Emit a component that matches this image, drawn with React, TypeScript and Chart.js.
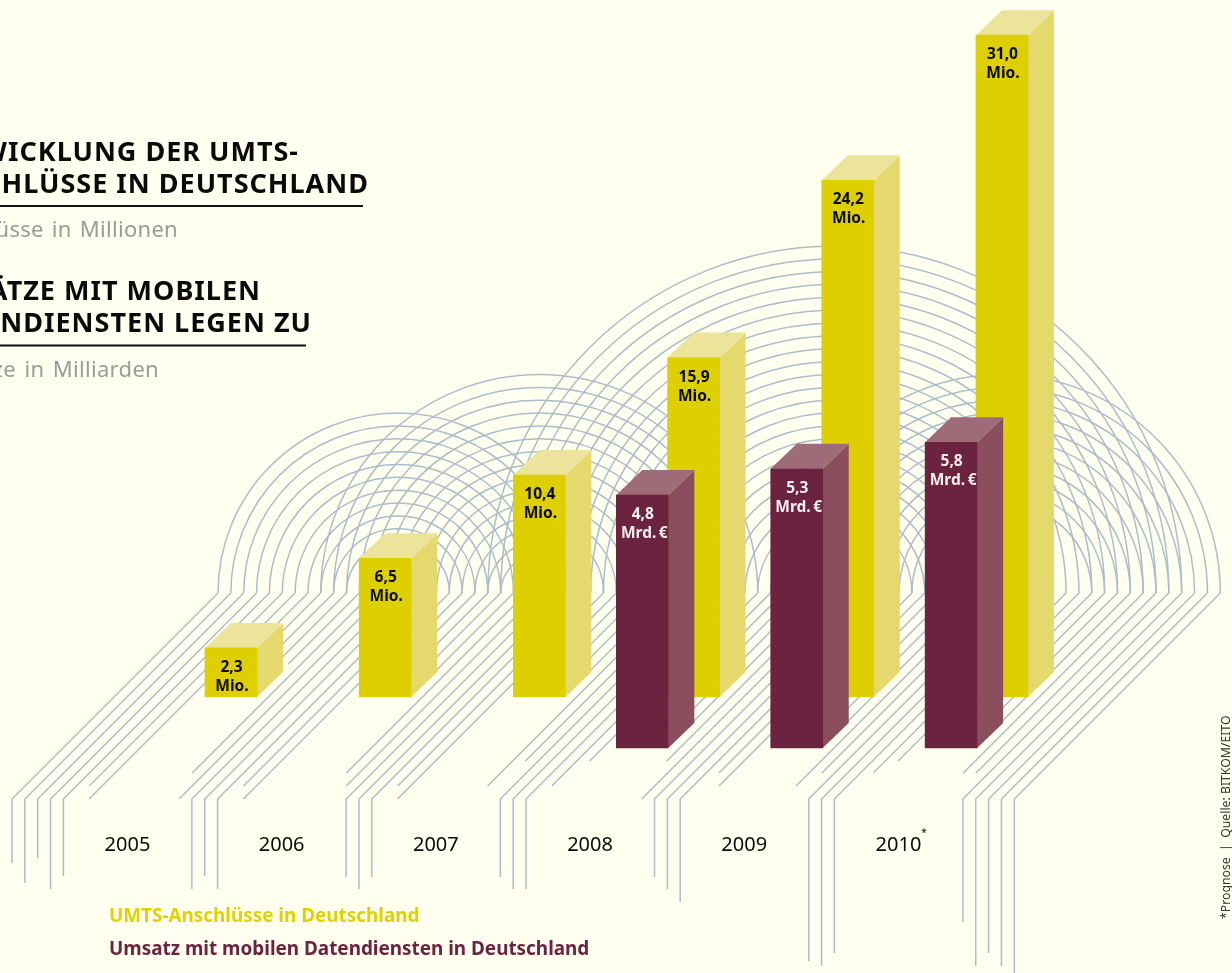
import React, { useEffect, useRef } from "react";
import { Chart, registerables } from "chart.js";

Chart.register(...registerables);

// ---------- data ----------
const umtsYears = [2005, 2006, 2007, 2008, 2009, 2010];
const umtsValues = [2.3, 6.5, 10.4, 15.9, 24.2, 31.0];
const revenueYears = [2008, 2009, 2010];
const revenueValues = [4.8, 5.3, 5.8];
const yearLabels = ["2005", "2006", "2007", "2008", "2009", "2010"];
const umtsUnit = "Mio.";
const revenueUnit = "Mrd.\u2009€";
const legendLabels = ["UMTS-Anschlüsse in Deutschland", "Umsatz mit mobilen Datendiensten in Deutschland"];
const sourceNote = "*Prognose  |  Quelle: BITKOM/EITO";

// ---------- style ----------
const BG = "#FFFFF0";
const YELLOW = { front: "#DDCF00", side: "#E5D96E", top: "#EDE49B", edge: "#F0E9A8" };
const MAROON = { front: "#6B2340", side: "#8A4E5F", top: "#9E6B78", edge: "#A9836F" };
const LINE = "#ABBDCA";
const FONT = '"Noto Sans"';
const DEPTH_X = 26;
const DEPTH_Y = 25;

// ---------- decorative line pattern ----------
const STEP = 12.85;
const FIRST_X = 218;
const SPRING_Y = 593;
const topX = (k: number) => FIRST_X + STEP * k;
// concentric half circles: [first left line, last left line, last right line]
const ARC_FANS: [number, number, number][] = [
  [0, 10, 28],
  [8, 23, 42],
  [21, 43, 75],
  [44, 54, 78],
];
// leg of each line: [index, y where the slant ends, y where the vertical stub ends (0 = none)]
const LEGS: [number, number, number][] = [
  [0, 799, 863], [1, 799, 883], [2, 799, 858], [3, 799, 889], [4, 799, 876], [5, 786, 0], [6, 799, 0],
  [7, 680, 0], [8, 680, 0], [9, 680, 0], [10, 680, 0], [11, 664, 0], [12, 773, 0], [13, 799, 0],
  [14, 799, 889], [15, 799, 876], [16, 799, 889], [17, 786, 0], [18, 799, 0],
  [19, 680, 0], [20, 680, 0], [21, 680, 0], [22, 680, 0], [23, 680, 0], [24, 773, 0], [25, 786, 0],
  [26, 799, 877], [27, 799, 889], [28, 799, 877], [29, 786, 0], [30, 799, 0],
  [31, 680, 0], [32, 680, 0], [33, 680, 0], [34, 680, 0], [35, 680, 0], [36, 786, 0], [37, 761, 0],
  [38, 799, 877], [39, 799, 889], [40, 799, 889], [41, 786, 0], [42, 761, 0],
  [43, 730, 0], [44, 730, 0], [45, 730, 0], [46, 730, 0], [47, 730, 0], [48, 761, 0], [49, 799, 0],
  [50, 799, 877], [51, 799, 889], [52, 799, 902], [53, 773, 0], [54, 786, 0],
  [55, 730, 0], [56, 730, 0], [57, 730, 0], [58, 730, 0], [59, 730, 0], [60, 786, 0], [61, 773, 0],
  [62, 799, 961], [63, 799, 966], [64, 799, 953], [65, 773, 0], [66, 761, 0],
  [67, 728, 0], [68, 728, 0], [69, 728, 0], [70, 728, 0], [71, 728, 0], [72, 773, 0], [73, 773, 0],
  [74, 799, 922], [75, 799, 966], [76, 799, 953], [77, 799, 966], [78, 799, 976],
];

function drawPattern(ctx: CanvasRenderingContext2D) {
  ctx.save();
  ctx.strokeStyle = LINE;
  ctx.lineWidth = 1.5;
  for (const [first, last, right] of ARC_FANS) {
    for (let k = first; k <= last; k++) {
      const l = topX(k);
      const r = topX(right - (k - first));
      ctx.beginPath();
      ctx.arc((l + r) / 2, SPRING_Y, (r - l) / 2, Math.PI, Math.PI * 2);
      ctx.stroke();
    }
  }
  for (const [k, slantY, stubY] of LEGS) {
    const x = topX(k);
    const ex = x - (slantY - SPRING_Y);
    ctx.beginPath();
    ctx.moveTo(x, SPRING_Y);
    ctx.lineTo(ex, slantY);
    if (stubY) ctx.lineTo(ex, stubY);
    ctx.stroke();
  }
  ctx.restore();
}

function text(
  ctx: CanvasRenderingContext2D,
  s: string,
  x: number,
  y: number,
  font: string,
  color: string,
  align: CanvasTextAlign = "left",
  spacing = "0px",
  wordSpacing = "0px"
) {
  ctx.font = font;
  ctx.fillStyle = color;
  ctx.textAlign = align;
  ctx.textBaseline = "alphabetic";
  (ctx as any).letterSpacing = spacing;
  (ctx as any).wordSpacing = wordSpacing;
  ctx.fillText(s, x, y);
  (ctx as any).letterSpacing = "0px";
  (ctx as any).wordSpacing = "0px";
}

function drawHeadings(ctx: CanvasRenderingContext2D) {
  const bold = `700 27px ${FONT}`;
  const sub = `400 22px ${FONT}`;
  text(ctx, "ENTWICKLUNG DER UMTS-", 299, 161, bold, "#0A0A0A", "right", "1px");
  text(ctx, "ANSCHLÜSSE IN DEUTSCHLAND", 369, 193, bold, "#0A0A0A", "right", "1px");
  text(ctx, "Anschlüsse in Millionen", 178, 237, sub, "#9A9A9A", "right", "0.3px", "2px");
  text(ctx, "UMSÄTZE MIT MOBILEN", 261, 300, bold, "#0A0A0A", "right", "1px");
  text(ctx, "DATENDIENSTEN LEGEN ZU", 312, 332, bold, "#0A0A0A", "right", "1px");
  text(ctx, "Umsätze in Milliarden", 159, 377, sub, "#9A9A9A", "right", "0.3px", "2.5px");
  ctx.fillStyle = "#111111";
  ctx.fillRect(0, 205, 363, 2);
  ctx.fillRect(0, 344.5, 306, 2);
}

const fmt = (v: number) => v.toFixed(1).replace(".", ",");

const bars3d = {
  id: "bars3d",
  beforeDatasetsDraw(chart: any) {
    drawPattern(chart.ctx);
  },
  beforeDatasetDraw(chart: any, args: any) {
    const ctx = chart.ctx;
    const c = args.index === 0 ? MAROON : YELLOW;
    for (const el of args.meta.data) {
      const l = el.x - el.width / 2;
      const r = el.x + el.width / 2;
      const t = el.y;
      const b = el.base;
      ctx.fillStyle = c.side;
      ctx.beginPath();
      ctx.moveTo(r, t);
      ctx.lineTo(r + DEPTH_X, t - DEPTH_Y);
      ctx.lineTo(r + DEPTH_X, b - DEPTH_Y);
      ctx.lineTo(r, b);
      ctx.closePath();
      ctx.fill();
      ctx.fillStyle = c.top;
      ctx.beginPath();
      ctx.moveTo(l, t);
      ctx.lineTo(l + DEPTH_X, t - DEPTH_Y);
      ctx.lineTo(r + DEPTH_X, t - DEPTH_Y);
      ctx.lineTo(r, t);
      ctx.closePath();
      ctx.fill();
      ctx.strokeStyle = c.edge;
      ctx.lineWidth = 0.8;
      ctx.beginPath();
      ctx.moveTo(r, t);
      ctx.lineTo(r + DEPTH_X, t - DEPTH_Y);
      ctx.stroke();
    }
  },
  afterDatasetDraw(chart: any, args: any) {
    const ctx = chart.ctx;
    const isRevenue = args.index === 0;
    const values = isRevenue ? revenueValues : umtsValues;
    const color = isRevenue ? "#F7F0EE" : "#0A0A0A";
    const font = `700 15.5px ${FONT}`;
    args.meta.data.forEach((el: any, i: number) => {
      const dx = isRevenue ? 2 : 1;
      text(ctx, fmt(values[i]), el.x + 0.5, el.y + 24, font, color, "center");
      text(ctx, isRevenue ? revenueUnit : umtsUnit, el.x + dx, el.y + 43, font, color, "center");
    });
  },
  afterDatasetsDraw(chart: any) {
    const ctx = chart.ctx;
    const sx = chart.scales.x;
    drawHeadings(ctx);
    const yearFont = `400 20px ${FONT}`;
    yearLabels.forEach((lab, i) => {
      text(ctx, lab, sx.getPixelForValue(umtsYears[i]) - 103.5, 851, yearFont, "#0A0A0A", "center");
    });
    text(ctx, "*", 924, 836, `400 10px ${FONT}`, "#0A0A0A", "center");
    const legFont = `700 18.9px ${FONT}`;
    text(ctx, legendLabels[0], 109, 922, legFont, "#E0D200");
    text(ctx, legendLabels[1], 109, 955, legFont, "#6B2340");
    ctx.save();
    ctx.translate(1229.5, 919);
    ctx.rotate(-Math.PI / 2);
    text(ctx, sourceNote, 0, 0, `400 12.25px ${FONT}`, "#333333");
    ctx.restore();
  },
};

export default function App() {
  const ref = useRef<HTMLCanvasElement>(null);
  useEffect(() => {
    if (!ref.current) return;
    const chart = new Chart(ref.current, {
      type: "bar",
      data: {
        datasets: [
          {
            label: legendLabels[1],
            data: revenueYears.map((x, i) => ({ x, y: revenueValues[i] })),
            backgroundColor: MAROON.front,
            xAxisID: "x2",
            yAxisID: "y2",
            barThickness: 52,
            grouped: false,
          },
          {
            label: legendLabels[0],
            data: umtsYears.map((x, i) => ({ x, y: umtsValues[i] })),
            backgroundColor: YELLOW.front,
            xAxisID: "x",
            yAxisID: "y",
            barThickness: 52,
            grouped: false,
          },
        ],
      },
      plugins: [bars3d],
      options: {
        responsive: false,
        animation: false,
        layout: { padding: 0 },
        plugins: { legend: { display: false }, tooltip: { enabled: false }, title: { display: false } },
        scales: {
          x: { type: "linear", offset: false, display: false, min: 2003.502, max: 2011.492, grid: { display: false } },
          x2: { type: "linear", offset: false, display: false, min: 2003.84, max: 2011.819, grid: { display: false } },
          y: { type: "linear", display: false, min: -12.927, max: 32.646, grid: { display: false } },
          y2: { type: "linear", display: false, min: -4.269, max: 14.194, position: "right", grid: { display: false } },
        },
      },
    } as any);
    return () => chart.destroy();
  }, []);
  return (
    <div style={{ position: "absolute", left: 0, top: 0, width: 1232, height: 973, overflow: "hidden", background: BG }}>
      <canvas ref={ref} width={1232} height={973} style={{ display: "block", background: BG }} />
    </div>
  );
}
